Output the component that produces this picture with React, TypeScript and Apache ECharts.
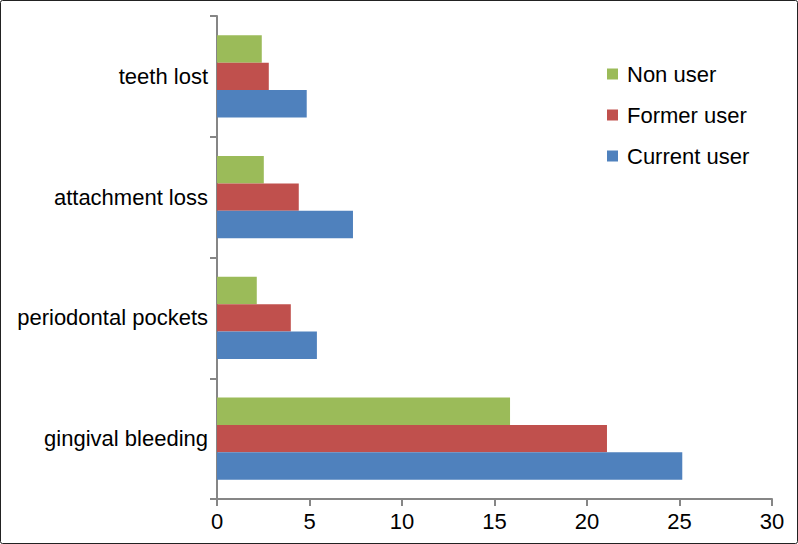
import React, { useEffect, useRef } from "react";
import * as echarts from "echarts";

const categories = ["gingival bleeding", "periodontal pockets", "attachment loss", "teeth lost"];
const nonUser = [15.84, 2.15, 2.53, 2.42];
const formerUser = [21.08, 3.99, 4.42, 2.8];
const currentUser = [25.15, 5.4, 7.35, 4.85];
const seriesNames = ["Non user", "Former user", "Current user"];
const colors = ["#9BBB59", "#C0504D", "#4F81BD"];

export default function App() {
  const ref = useRef<HTMLDivElement>(null);
  useEffect(() => {
    document.body.style.margin = "0";
    const chart = echarts.init(ref.current!, null, { renderer: "svg" });
    const font = "'Liberation Sans', Arial, sans-serif";
    const values = [nonUser, formerUser, currentUser];
    chart.setOption({
      animation: false,
      backgroundColor: "#fff",
      textStyle: { fontFamily: font },
      grid: { left: 217, right: 26, top: 16, bottom: 45 },
      legend: {
        orient: "vertical",
        left: 602,
        top: 58,
        itemWidth: 11,
        itemHeight: 11,
        itemGap: 19,
        icon: "rect",
        data: seriesNames,
        textStyle: { fontSize: 22, color: "#000", fontFamily: font, padding: [0, 0, 0, 4] },
      },
      xAxis: {
        type: "value",
        min: 0,
        max: 30,
        interval: 5,
        axisLine: { show: true, lineStyle: { color: "#868686", width: 2 } },
        axisTick: { show: true, length: 7, lineStyle: { color: "#868686", width: 2 } },
        splitLine: { show: false },
        axisLabel: { fontSize: 22, color: "#000", margin: 11, fontFamily: font },
      },
      yAxis: {
        type: "category",
        data: categories,
        axisLine: { show: true, lineStyle: { color: "#868686", width: 2 } },
        axisTick: { show: true, length: 7, lineStyle: { color: "#868686", width: 2 } },
        axisLabel: { fontSize: 22, color: "#000", margin: 9, fontFamily: font },
      },
      series: seriesNames.map((name, i) => ({
        name,
        type: "bar",
        data: values[i],
        itemStyle: { color: colors[i] },
        barGap: "0%",
        barCategoryGap: "32%",
      })),
      graphic: [
        {
          type: "rect",
          shape: { x: 0.5, y: 0.5, width: 797, height: 543, r: 2 },
          style: { fill: "none", stroke: "#222", lineWidth: 1 },
          silent: true,
        },
      ],
    });
    return () => chart.dispose();
  }, []);
  return <div ref={ref} style={{ width: 798, height: 544 }} />;
}
